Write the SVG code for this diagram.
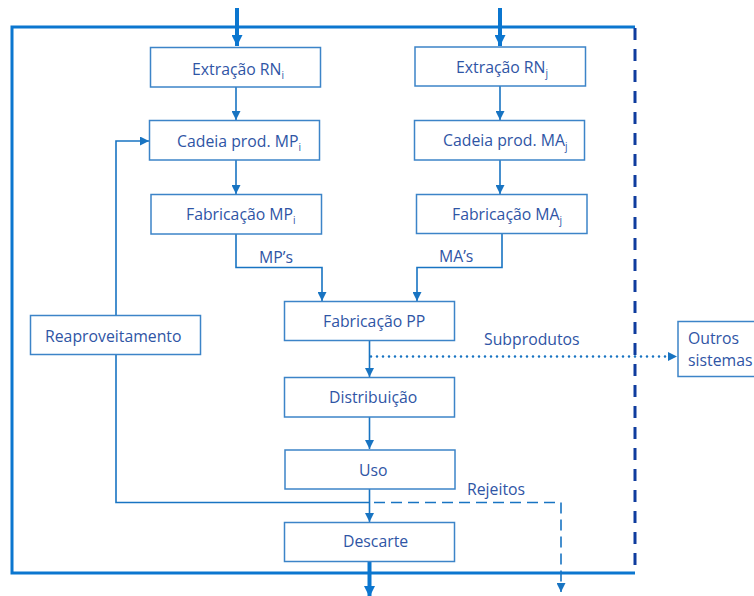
<svg xmlns="http://www.w3.org/2000/svg" width="754" height="596" viewBox="0 0 754 596">
  <style>
    .box { fill: #ffffff; stroke: #3C84C8; stroke-width: 1.5; }
    .lbl { font-family: "Open Sans", "Liberation Sans", Arial, sans-serif; font-size: 15.8px; fill: #2F55A5; }
    .sub { font-size: 10px; }
    .flow { fill: none; stroke: #1874C2; stroke-width: 1.6; }
    .bound { fill: none; stroke: #0B76CF; stroke-width: 3; }
  </style>
  <defs>
    <marker id="ahs" viewBox="0 0 10 10" refX="10" refY="5" markerWidth="9" markerHeight="9" markerUnits="userSpaceOnUse" orient="auto">
      <path d="M0,0 L10,5 L0,10 z" fill="#1874C2"/>
    </marker>
    <marker id="ahb" viewBox="0 0 10 10" refX="10" refY="5" markerWidth="14" markerHeight="11" markerUnits="userSpaceOnUse" orient="auto">
      <path d="M0,0 L10,5 L0,10 z" fill="#0B76CF"/>
    </marker>
  </defs>

  <!-- system boundary -->
  <g id="boundary">
    <path class="bound" d="M635,27 H12 V573 H635"/>
    <line x1="635" y1="28" x2="635" y2="566" stroke="#0F3C9E" stroke-width="3" stroke-dasharray="12,9"/>
  </g>

  <!-- connectors -->
  <g id="connectors">
    <line x1="237" y1="8" x2="237" y2="46" stroke="#0B76CF" stroke-width="4" marker-end="url(#ahb)"/>
    <line x1="500" y1="8" x2="500" y2="46" stroke="#0B76CF" stroke-width="4" marker-end="url(#ahb)"/>
    <line class="flow" x1="236" y1="87" x2="236" y2="120" marker-end="url(#ahs)"/>
    <line class="flow" x1="236" y1="160" x2="236" y2="194" marker-end="url(#ahs)"/>
    <line class="flow" x1="500" y1="86" x2="500" y2="120" marker-end="url(#ahs)"/>
    <line class="flow" x1="500" y1="160" x2="500" y2="194" marker-end="url(#ahs)"/>
    <path class="flow" d="M236,234 V267.5 H322 V301" marker-end="url(#ahs)"/>
    <path class="flow" d="M502,233 V267.5 H417 V301" marker-end="url(#ahs)"/>
    <line class="flow" x1="369.5" y1="340" x2="369.5" y2="377" marker-end="url(#ahs)"/>
    <line class="flow" x1="369.5" y1="417" x2="369.5" y2="449" marker-end="url(#ahs)"/>
    <line class="flow" x1="369.5" y1="489" x2="369.5" y2="522" marker-end="url(#ahs)"/>
    <line x1="369.5" y1="562" x2="369.5" y2="597" stroke="#0B76CF" stroke-width="4" marker-end="url(#ahb)"/>
    <!-- reuse loop -->
    <path class="flow" d="M116,315 V141 H149" marker-end="url(#ahs)"/>
    <path class="flow" d="M116,354 V502.5 H370"/>
    <!-- rejects -->
    <path class="flow" d="M374,502.5 H561 V592" stroke-width="2" stroke-dasharray="11,6" marker-end="url(#ahs)"/>
    <!-- by-products -->
    <line x1="371" y1="356.5" x2="677" y2="356.5" stroke="#1874C2" stroke-width="2.6" stroke-linecap="round" stroke-dasharray="0,6" marker-end="url(#ahs)"/>
    <text class="lbl" x="259" y="263">MP’s</text>
    <text class="lbl" x="439" y="262">MA’s</text>
    <text class="lbl" x="484" y="345">Subprodutos</text>
    <text class="lbl" x="467" y="495">Rejeitos</text>
  </g>

  <g id="extracao-rni">
    <rect class="box" x="150.5" y="47.5" width="170" height="39.5"/>
    <text class="lbl" x="192" y="75">Extração RN<tspan class="sub" dy="4">i</tspan></text>
  </g>
  <g id="extracao-rnj">
    <rect class="box" x="415" y="47" width="170.5" height="39"/>
    <text class="lbl" x="456" y="73">Extração RN<tspan class="sub" dy="4">j</tspan></text>
  </g>
  <g id="cadeia-mpi">
    <rect class="box" x="149.5" y="120.5" width="170" height="39.5"/>
    <text class="lbl" x="177" y="147">Cadeia prod. MP<tspan class="sub" dy="4">i</tspan></text>
  </g>
  <g id="cadeia-maj">
    <rect class="box" x="414.5" y="120.5" width="170" height="39.5"/>
    <text class="lbl" x="443" y="146">Cadeia prod. MA<tspan class="sub" dy="4">j</tspan></text>
  </g>
  <g id="fabricacao-mpi">
    <rect class="box" x="151" y="194.5" width="170.5" height="39.5"/>
    <text class="lbl" x="186" y="220">Fabricação MP<tspan class="sub" dy="4">i</tspan></text>
  </g>
  <g id="fabricacao-maj">
    <rect class="box" x="416.5" y="194.5" width="170.5" height="39"/>
    <text class="lbl" x="452" y="220">Fabricação MA<tspan class="sub" dy="4">j</tspan></text>
  </g>
  <g id="fabricacao-pp">
    <rect class="box" x="284.5" y="301.5" width="170" height="39"/>
    <text class="lbl" x="323" y="327">Fabricação PP</text>
  </g>
  <g id="reaproveitamento">
    <rect class="box" x="30.5" y="315.5" width="170" height="39"/>
    <text class="lbl" x="45" y="342">Reaproveitamento</text>
  </g>
  <g id="distribuicao">
    <rect class="box" x="284.5" y="377.5" width="170" height="39.5"/>
    <text class="lbl" x="329" y="403">Distribuição</text>
  </g>
  <g id="uso">
    <rect class="box" x="285" y="450" width="170" height="39"/>
    <text class="lbl" x="359" y="476">Uso</text>
  </g>
  <g id="descarte">
    <rect class="box" x="284.5" y="522.5" width="170" height="39"/>
    <text class="lbl" x="343" y="547">Descarte</text>
  </g>
  <g id="outros-sistemas">
    <rect class="box" x="678" y="321.5" width="80" height="55"/>
    <text class="lbl" x="688" y="344">Outros</text>
    <text class="lbl" x="688" y="366">sistemas</text>
  </g>
</svg>
